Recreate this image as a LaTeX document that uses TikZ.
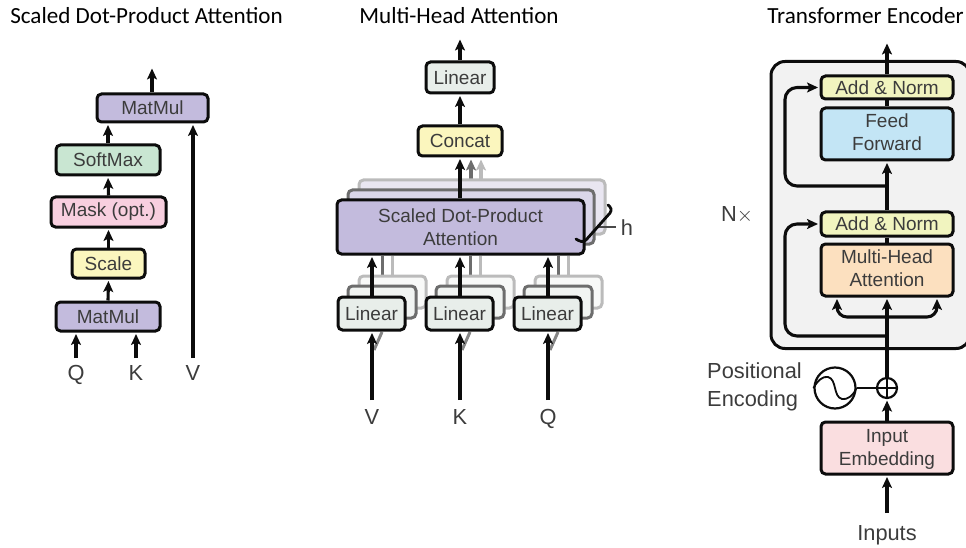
\documentclass[tikz,border=0pt]{standalone}
\usepackage{fontspec}
\setmainfont{Liberation Sans}
\newfontfamily\titlefont{Carlito}
\usetikzlibrary{arrows.meta,calc}
\definecolor{ink}{HTML}{0C0C0C}
\definecolor{txt}{HTML}{3C3C3C}
\definecolor{purp}{HTML}{C3BBDD}
\definecolor{purpa}{HTML}{DAD6E9}
\definecolor{purpb}{HTML}{E9E6F1}
\definecolor{lin}{HTML}{E8EEEA}
\definecolor{lina}{HTML}{F1F4F2}
\definecolor{linb}{HTML}{F8F9F8}
\definecolor{yel}{HTML}{FBF6BE}
\definecolor{grn}{HTML}{C9E6D2}
\definecolor{pnk}{HTML}{F8CFDF}
\definecolor{addn}{HTML}{F1F4BF}
\definecolor{blu}{HTML}{C3E5F5}
\definecolor{org}{HTML}{FCE0BF}
\definecolor{rose}{HTML}{FADEE0}
\definecolor{encbg}{HTML}{F2F2F2}
\tikzset{
  x=1pt,y=-1pt,
  box/.style={draw=ink,line width=3pt,rounded corners=4.5pt,inner sep=0pt,text=txt,align=center,
    font=\fontsize{19}{23}\selectfont},
  shadea/.style={box,draw=ink!60},
  shadeb/.style={box,draw=ink!28},
  arr/.style={draw=ink,line width=3.1pt,-{Stealth[length=11pt,width=10pt,inset=2.5pt]},shorten >=1.5pt},
  arra/.style={arr,draw=ink!60},
  arrb/.style={arr,draw=ink!28},
  plain/.style={draw=ink,line width=3.1pt},
  lab/.style={inner sep=0pt,text=txt,align=center,font=\fontsize{21.8}{28}\selectfont},
  letter/.style={lab,anchor=base},
  ttl/.style={inner sep=0pt,text=black,font=\titlefont\fontsize{23.1}{26}\selectfont},
}
\newcommand{\bx}[8][box]{\node[#1,fill=#7,minimum width={(#5)-(#3)-2},minimum height={(#6)-(#4)-2}] (#2) at ({(#3+#5)/2},{(#4+#6)/2}) {#8};}
\begin{document}
\begin{tikzpicture}
\useasboundingbox (0,0) rectangle (966,548);
\clip (0,0) rectangle (966,548);
% titles
\node[ttl] (t1) at (146.5,16) {Scaled Dot-Product Attention};
\node[ttl] (t2) at (459,16) {Multi-Head Attention};
\node[ttl] (t3) at (865.5,16) {Transformer Encoder};
% ---------- left
\bx{mm}{96}{93}{209}{123}{purp}{MatMul}
\bx{soft}{55}{144}{161}{176}{grn}{SoftMax}
\bx{mask}{50}{196}{167}{228}{pnk}{Mask (opt.)}
\bx{scale}{71}{248}{146}{279}{yel}{Scale}
\bx{ml}{55}{301}{161}{332}{purp}{MatMul}
\node[letter] (q1) at (76,380) {Q};
\node[letter] (k1) at (136,380) {K};
\node[letter] (v1) at (193,380) {V};
\coordinate (qs) at (76,358);
\coordinate (ks) at (136,358);
\coordinate (vs) at (193,358);
\coordinate (lout) at (152,67);
\draw[arr] (qs) -- (qs |- ml.south);
\draw[arr] (ks) -- (ks |- ml.south);
\draw[arr] (vs) -- (vs |- mm.south);
\draw[arr] (ml.north) -- (scale.south);
\draw[arr] (scale.north) -- (mask.south);
\draw[arr] (mask.north) -- (soft.south);
\draw[arr] (soft.north) -- (soft.north |- mm.south);
\draw[arr] (lout |- mm.north) -- (lout);
% ---------- middle
\coordinate (ga) at (471,158);
\coordinate (gb) at (481,158);
\draw[arrb] (gb |- 0,199) -- (gb);
\draw[arra] (ga |- 0,199) -- (ga);
\bx[shadeb]{sdb}{358}{179}{606}{235}{purpb}{}
\bx[shadea]{sda}{347}{189}{595}{245}{purpa}{}
\foreach \dx in {0,88,176}{
  \draw[draw=ink!28,line width=3pt] ({392+\dx},256) -- ({392+\dx},276);
  \draw[draw=ink!60,line width=3pt] ({382+\dx},256) -- ({382+\dx},286);
  \draw[draw=ink!50,line width=3pt] ({374+\dx},350) -- ({382+\dx},332);
}
\bx[shadeb]{lb1}{358}{275}{427}{309}{linb}{}
\bx[shadea]{la1}{347}{285}{417}{319}{lina}{}
\bx[shadeb]{lb2}{446}{275}{515}{309}{linb}{}
\bx[shadea]{la2}{435}{285}{505}{319}{lina}{}
\bx[shadeb]{lb3}{534}{275}{603}{309}{linb}{}
\bx[shadea]{la3}{523}{285}{593}{319}{lina}{}
\bx{sd}{336}{199}{585}{255}{purp}{Scaled Dot-Product\\Attention}
\bx{l1}{337}{296}{406}{331}{lin}{Linear}
\bx{l2}{425}{296}{494}{331}{lin}{Linear}
\bx{l3}{513}{296}{582}{331}{lin}{Linear}
\bx{concat}{417}{125}{503}{157}{yel}{Concat}
\bx{lt}{425}{61}{495}{94}{lin}{Linear}
\coordinate (mout) at (460,38);
\coordinate (vm) at (372,400);
\coordinate (km) at (460,400);
\coordinate (qm) at (548,400);
\draw[arr] (lt.north) -- (mout);
\draw[arr] (concat.north) -- (lt.south);
\draw[arr] (mout |- sd.north) -- (mout |- concat.south);
\draw[arr] (vm |- l1.north) -- (vm |- sd.south);
\draw[arr] (km |- l2.north) -- (km |- sd.south);
\draw[arr] (qm |- l3.north) -- (qm |- sd.south);
\draw[arr] (vm) -- (vm |- l1.south);
\draw[arr] (km) -- (km |- l2.south);
\draw[arr] (qm) -- (qm |- l3.south);
\node[letter] (v2) at (372,424) {V};
\node[letter] (k2) at (460,424) {K};
\node[letter] (q2) at (548,424) {Q};
\node[lab] (h) at (627,228) {h};
\coordinate (hl) at (598,227);
\coordinate (hr) at (616,227);
\draw[draw=ink!75,line width=1.4pt] (hl) -- (hr);
\draw[draw=ink,line width=2.8pt,line cap=round] (576,239) .. controls (579,241) and (583,243) .. (586,240) -- (610,213) .. controls (612,210) and (611,207) .. (608,205);
% ---------- right
\node[draw=ink,line width=3pt,fill=encbg,rounded corners=14pt,inner sep=0pt,minimum width=199pt,minimum height=287pt] (enc) at (870.5,205) {};
\bx{an1}{820}{75}{954}{100}{addn}{Add \& Norm}
\bx{ff}{820}{107}{954}{161}{blu}{Feed\\Forward\rule[-4pt]{0pt}{0pt}}
\bx{an2}{820}{211}{954}{237}{addn}{Add \& Norm}
\bx{mha}{820}{243}{954}{297}{org}{Multi-Head\\Attention\rule[-4pt]{0pt}{0pt}}
\bx{emb}{820}{421}{954}{475}{rose}{\rule{0pt}{16pt}Input\\Embedding}
\node[draw=ink,line width=2.2pt,circle,fill=white,minimum size=20pt,inner sep=0pt] (plus) at (887,388) {};
\node[draw=ink,line width=2.2pt,circle,fill=white,minimum size=41pt,inner sep=0pt] (sine) at (835,388) {};
\draw[draw=ink,line width=1.6pt] (plus.north) -- (plus.south) (plus.west) -- (plus.east);
\draw[draw=ink,line width=1.8pt] (sine.west) .. controls (818,380) and (823,376) .. (828,377) .. controls (837,379) and (833,397) .. (842,399) .. controls (847,400) and (853,396) .. (sine.east);
\draw[draw=ink,line width=2.2pt] (sine.east) -- (plus.west);
\coordinate (rout) at (887,42);
\coordinate (inp) at (887,513);
\coordinate (j1) at (887,186);
\coordinate (j2) at (887,336);
\coordinate (j3) at (887,317);
\coordinate (ll) at (837,317);
\coordinate (rr) at (937,317);
\draw[arr] (an1.north -| rout) -- (rout);
\draw[plain] (ff.north -| rout) -- (an1.south -| rout);
\draw[arr] (an2.north -| rout) -- (ff.south -| rout);
\draw[plain] (mha.north -| rout) -- (an2.south -| rout);
\draw[arr] (plus.north) -- (mha.south -| rout);
\draw[arr] (emb.north -| plus) -- (plus.south);
\draw[arr] (inp) -- (emb.south -| inp);
\draw[arr,rounded corners=12pt] (j1) -- (785,186) -- (785,87.5) -- (an1.west);
\draw[arr,rounded corners=12pt] (j2) -- (785,336) -- (785,224) -- (an2.west);
\draw[arr,rounded corners=10pt] (j3) -- (ll) -- (ll |- mha.south);
\draw[arr,rounded corners=10pt] (j3) -- (rr) -- (rr |- mha.south);
\node[lab] (nx) at (737,215) {N$\times$};
\node[lab,align=left,anchor=west] (pe) at (707,387) {Positional\\Encoding};
\node[lab] (inputs) at (887,535) {Inputs};
\end{tikzpicture}
\end{document}
